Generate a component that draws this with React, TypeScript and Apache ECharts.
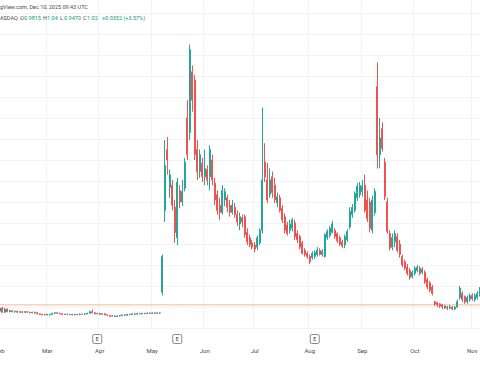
import React, { useEffect, useRef } from "react";
import * as echarts from "echarts";

// Trading days per month (2025)
const febDays = [3, 4, 5, 6, 7, 10, 11, 12, 13, 14, 18, 19, 20, 21, 24, 25, 26, 27, 28];
const marDays = [3, 4, 5, 6, 7, 10, 11, 12, 13, 14, 17, 18, 19, 20, 21, 24, 25, 26, 27, 28, 31];
const aprDays = [1, 2, 3, 4, 7, 8, 9, 10, 11, 14, 15, 16, 17, 21, 22, 23, 24, 25, 28, 29, 30];
const mayDays = [1, 2, 5, 6, 7, 8, 9, 12, 13, 14, 15, 16, 19, 20, 21, 22, 23, 27, 28, 29, 30];
const junDays = [2, 3, 4, 5, 6, 9, 10, 11, 12, 13, 16, 17, 18, 20, 23, 24, 25, 26, 27, 30];
const julDays = [1, 2, 3, 7, 8, 9, 10, 11, 14, 15, 16, 17, 18, 21, 22, 23, 24, 25, 28, 29, 30, 31];
const augDays = [1, 4, 5, 6, 7, 8, 11, 12, 13, 14, 15, 18, 19, 20, 21, 22, 25, 26, 27, 28, 29];
const sepDays = [2, 3, 4, 5, 8, 9, 10, 11, 12, 15, 16, 17, 18, 19, 22, 23, 24, 25, 26, 29, 30];
const octDays = [1, 2, 3, 6, 7, 8, 9, 10, 13, 14, 15, 16, 17, 20, 21, 22, 23, 24, 27, 28, 29, 30, 31];
const novDays = [3, 4, 5, 6];

// [open, close, low, high]
const febOHLC = [
  [0.96, 0.99, 0.95, 1.0], [0.99, 0.95, 0.945, 1.0], [0.95, 0.98, 0.945, 0.99], [0.98, 0.955, 0.95, 0.985],
  [0.955, 0.965, 0.95, 0.975], [0.965, 0.955, 0.95, 0.97], [0.955, 0.96, 0.945, 0.965], [0.96, 0.95, 0.945, 0.965],
  [0.95, 0.955, 0.945, 0.96], [0.955, 0.95, 0.94, 0.96], [0.95, 0.955, 0.945, 0.96], [0.955, 0.95, 0.945, 0.96],
  [0.95, 0.945, 0.94, 0.955], [0.945, 0.95, 0.94, 0.955], [0.95, 0.945, 0.935, 0.955], [0.945, 0.935, 0.93, 0.95],
  [0.935, 0.93, 0.925, 0.94], [0.93, 0.925, 0.92, 0.935], [0.925, 0.93, 0.92, 0.935],
];
const marOHLC = [
  [0.93, 0.925, 0.92, 0.935], [0.925, 0.93, 0.92, 0.935], [0.93, 0.94, 0.925, 0.945], [0.94, 0.945, 0.935, 0.95],
  [0.945, 0.94, 0.935, 0.95], [0.94, 0.935, 0.93, 0.945], [0.935, 0.93, 0.925, 0.94], [0.93, 0.932, 0.925, 0.935],
  [0.932, 0.928, 0.922, 0.935], [0.928, 0.93, 0.922, 0.935], [0.93, 0.925, 0.92, 0.935], [0.925, 0.93, 0.92, 0.935],
  [0.93, 0.928, 0.922, 0.935], [0.928, 0.932, 0.922, 0.94], [0.932, 0.93, 0.925, 0.935], [0.93, 0.935, 0.925, 0.94],
  [0.935, 0.94, 0.93, 0.945], [0.94, 0.955, 0.935, 0.965], [0.955, 0.945, 0.94, 0.975], [0.945, 0.935, 0.93, 0.95],
  [0.935, 0.94, 0.93, 0.945],
];
const aprOHLC = [
  [0.94, 0.93, 0.925, 0.945], [0.93, 0.935, 0.925, 0.94], [0.935, 0.925, 0.92, 0.94], [0.925, 0.92, 0.915, 0.93],
  [0.92, 0.912, 0.905, 0.925], [0.912, 0.915, 0.905, 0.92], [0.915, 0.91, 0.903, 0.92], [0.91, 0.915, 0.905, 0.92],
  [0.915, 0.92, 0.91, 0.925], [0.92, 0.925, 0.915, 0.93], [0.925, 0.922, 0.915, 0.93], [0.922, 0.928, 0.918, 0.935],
  [0.928, 0.93, 0.92, 0.935], [0.93, 0.935, 0.925, 0.94], [0.935, 0.932, 0.925, 0.94], [0.932, 0.938, 0.928, 0.945],
  [0.938, 0.935, 0.93, 0.945], [0.935, 0.94, 0.93, 0.945], [0.94, 0.938, 0.932, 0.945], [0.938, 0.942, 0.932, 0.948],
  [0.942, 0.94, 0.935, 0.948],
];
const mayOHLC = [
  [0.94, 0.943, 0.935, 0.95], [0.943, 0.94, 0.935, 0.95], [0.94, 0.944, 0.935, 0.95], [0.944, 0.942, 0.936, 0.95],
  [1.14, 1.48, 1.11, 1.5], [1.92, 2.35, 1.81, 2.59], [2.5, 2.4, 2.26, 2.62], [2.14, 2.26, 2.04, 2.31],
  [2.16, 1.97, 1.92, 2.21], [1.95, 1.71, 1.61, 2.02], [1.66, 2.19, 1.59, 2.23], [2.11, 2.0, 1.94, 2.16],
  [2.0, 2.1, 1.96, 2.21], [2.13, 2.38, 2.1, 2.42], [2.8, 2.45, 2.4, 2.97], [2.66, 3.45, 2.59, 3.5],
  [3.24, 2.97, 2.86, 3.3], [3.16, 2.45, 2.4, 3.21], [2.5, 2.29, 2.21, 2.59], [2.29, 2.45, 2.23, 2.5],
  [2.37, 2.24, 2.19, 2.42],
];
const junOHLC = [
  [2.24, 2.32, 2.16, 2.5], [2.31, 2.21, 2.16, 2.35], [2.24, 2.5, 2.11, 2.54], [2.4, 2.21, 2.16, 2.45],
  [2.18, 2.02, 1.97, 2.23], [2.07, 1.92, 1.88, 2.11], [1.97, 1.9, 1.83, 2.04], [1.9, 2.11, 1.88, 2.16],
  [2.02, 2.1, 1.96, 2.13], [2.04, 1.95, 1.9, 2.07], [1.97, 1.9, 1.86, 2.02], [1.9, 1.97, 1.88, 2.02],
  [1.95, 1.88, 1.85, 1.99], [1.88, 1.81, 1.77, 1.92], [1.79, 1.86, 1.73, 1.9], [1.85, 1.81, 1.76, 1.88],
  [1.86, 1.69, 1.66, 1.88], [1.71, 1.62, 1.59, 1.75], [1.66, 1.59, 1.57, 1.69], [1.61, 1.57, 1.55, 1.64],
];
const julOHLC = [
  [1.59, 1.55, 1.52, 1.62], [1.57, 1.66, 1.54, 1.68], [1.61, 1.73, 1.59, 1.75], [1.73, 2.21, 1.7, 2.9],
  [2.38, 2.24, 2.19, 2.56], [2.21, 2.02, 1.99, 2.37], [2.07, 2.21, 2.04, 2.32], [2.24, 2.09, 2.04, 2.29],
  [2.16, 2.02, 1.99, 2.23], [1.99, 2.05, 1.95, 2.09], [2.04, 1.92, 1.9, 2.07], [1.94, 1.83, 1.8, 1.97],
  [1.86, 1.73, 1.7, 1.89], [1.78, 1.7, 1.68, 1.81], [1.73, 1.79, 1.7, 1.83], [1.75, 1.83, 1.72, 1.85],
  [1.8, 1.67, 1.64, 1.83], [1.7, 1.64, 1.61, 1.73], [1.67, 1.57, 1.55, 1.69], [1.61, 1.51, 1.5, 1.63],
  [1.54, 1.5, 1.48, 1.56], [1.51, 1.48, 1.46, 1.53],
];
const augOHLC = [
  [1.48, 1.43, 1.41, 1.5], [1.47, 1.51, 1.45, 1.53], [1.48, 1.52, 1.46, 1.54], [1.5, 1.54, 1.48, 1.57],
  [1.54, 1.5, 1.49, 1.56], [1.5, 1.53, 1.48, 1.55], [1.48, 1.69, 1.47, 1.7], [1.66, 1.72, 1.64, 1.74],
  [1.68, 1.75, 1.66, 1.77], [1.71, 1.79, 1.7, 1.82], [1.73, 1.67, 1.65, 1.75], [1.7, 1.63, 1.61, 1.71],
  [1.66, 1.6, 1.58, 1.68], [1.62, 1.58, 1.56, 1.64], [1.59, 1.67, 1.56, 1.69], [1.64, 1.72, 1.62, 1.74],
  [1.76, 1.91, 1.74, 1.95], [1.88, 1.95, 1.85, 1.98], [1.92, 2.08, 1.9, 2.1], [2.04, 2.15, 2.01, 2.18],
  [2.07, 2.16, 2.04, 2.19],
];
const sepOHLC = [
  [2.1, 2.15, 2.05, 2.21], [2.16, 1.92, 1.9, 2.26], [2.02, 1.84, 1.81, 2.11], [2.0, 1.75, 1.71, 2.04],
  [1.73, 2.02, 1.7, 2.06], [1.9, 2.1, 1.87, 2.13], [3.1, 2.45, 2.32, 3.33], [2.45, 2.61, 2.32, 2.8],
  [2.7, 2.51, 2.48, 2.76], [2.38, 2.05, 2.02, 2.42], [2.0, 1.72, 1.7, 2.04], [1.7, 1.56, 1.54, 1.73],
  [1.57, 1.66, 1.54, 1.7], [1.62, 1.7, 1.57, 1.73], [1.67, 1.54, 1.52, 1.7], [1.6, 1.5, 1.47, 1.64],
  [1.48, 1.4, 1.38, 1.5], [1.43, 1.37, 1.35, 1.45], [1.38, 1.32, 1.3, 1.41], [1.35, 1.28, 1.26, 1.37],
  [1.29, 1.33, 1.27, 1.35],
];
const octOHLC = [
  [1.32, 1.37, 1.3, 1.39], [1.35, 1.38, 1.33, 1.4], [1.37, 1.32, 1.3, 1.39], [1.33, 1.36, 1.31, 1.38],
  [1.33, 1.24, 1.22, 1.35], [1.26, 1.19, 1.17, 1.28], [1.23, 1.16, 1.14, 1.25], [1.19, 1.13, 1.11, 1.21],
  [1.05, 1.03, 1.01, 1.06], [1.04, 1.02, 1.0, 1.05], [1.03, 1.01, 0.99, 1.04], [1.02, 1.0, 0.98, 1.03],
  [0.99, 1.01, 0.98, 1.02], [1.0, 0.99, 0.97, 1.01], [0.99, 1.0, 0.98, 1.02], [1.0, 0.98, 0.97, 1.01],
  [0.98, 1.0, 0.97, 1.01], [1.0, 1.05, 0.99, 1.07], [1.09, 1.18, 1.07, 1.2], [1.13, 1.07, 1.05, 1.15],
  [1.1, 1.05, 1.03, 1.11], [1.05, 1.09, 1.03, 1.11], [1.07, 1.11, 1.05, 1.13],
];
const novOHLC = [
  [1.11, 1.08, 1.06, 1.13], [1.07, 1.11, 1.05, 1.13], [1.09, 1.13, 1.07, 1.15], [1.12, 1.17, 1.1, 1.19],
];

const lastClose = 1.02;
const earningsDates = ["2025-03-31", "2025-05-15", "2025-08-05"];
const monthNames = ["Jan", "Feb", "Mar", "Apr", "May", "Jun", "Jul", "Aug", "Sep", "Oct", "Nov", "Dec"];

const headerLine1 = "gView.com, Dec 10, 2025 09:43 UTC";
const headerTicker = "ASDAQ";
const headerFields = [
  { k: "O", v: "0.9815" },
  { k: "H", v: "1.04" },
  { k: "L", v: "0.9470" },
  { k: "C", v: "1.02" },
];
const headerChange = "+0.0352 (+3.57%)";

const monthTable: [string, number[], number[][]][] = [
  ["02", febDays, febOHLC],
  ["03", marDays, marOHLC],
  ["04", aprDays, aprOHLC],
  ["05", mayDays, mayOHLC],
  ["06", junDays, junOHLC],
  ["07", julDays, julOHLC],
  ["08", augDays, augOHLC],
  ["09", sepDays, sepOHLC],
  ["10", octDays, octOHLC],
  ["11", novDays, novOHLC],
];

const dates: string[] = [];
const candles: number[][] = [];
const monthStart = new Set<number>();
monthTable.forEach(([mm, days, ohlc]) => {
  monthStart.add(dates.length);
  days.forEach((d, i) => {
    dates.push(`2025-${mm}-${String(d).padStart(2, "0")}`);
    candles.push(ohlc[i]);
  });
});

const UP = "#26a69a";
const DOWN = "#ef5350";
const GRID = "#f2f3f6";
const PRICE_LINE = "#f6b98e";
const FONT = "Roboto, 'Liberation Sans', sans-serif";

export default function App() {
  const ref = useRef<HTMLDivElement>(null);
  useEffect(() => {
    if (!ref.current) return;
    const chart = echarts.init(ref.current, undefined, { renderer: "svg" });
    chart.setOption({
      animation: false,
      backgroundColor: "#ffffff",
      grid: {
        left: -1.5,
        right: -1,
        top: -8,
        bottom: 56,
        containLabel: false,
        outerBoundsMode: "none",
      },
      xAxis: {
        type: "category",
        data: dates,
        boundaryGap: true,
        axisLine: { show: false },
        axisTick: { show: false },
        axisLabel: {
          interval: (i: number) => monthStart.has(i),
          formatter: (v: string) => monthNames[parseInt(v.slice(5, 7), 10) - 1],
          fontSize: 6,
          color: "#4a4a4a",
          margin: 19,
          fontFamily: FONT,
          hideOverlap: false,
        },
        splitLine: {
          show: true,
          interval: (i: number) => monthStart.has(i),
          lineStyle: { color: GRID, width: 1 },
        },
      },
      yAxis: {
        type: "value",
        min: 0.8,
        max: 4.0,
        interval: 0.2,
        axisLine: { show: false },
        axisTick: { show: false },
        axisLabel: { show: false },
        splitLine: { show: true, lineStyle: { color: GRID, width: 1 } },
      },
      series: [
        {
          type: "line",
          data: [
            [dates[0], lastClose],
            [dates[dates.length - 1], lastClose],
          ],
          symbol: "none",
          silent: true,
          z: 1,
          lineStyle: { color: PRICE_LINE, width: 1 },
          itemStyle: { color: PRICE_LINE },
        },
        {
          type: "candlestick",
          data: candles,
          barWidth: 1.4,
          z: 3,
          itemStyle: {
            color: UP,
            color0: DOWN,
            borderColor: UP,
            borderColor0: DOWN,
            borderWidth: 1,
          },
        },
      ],
    });

    const headerEls: any[] = [
      {
        type: "text",
        x: 0,
        y: 6.5,
        style: { text: headerLine1, fontSize: 5.5, fill: "#4a4a4a", fontFamily: FONT, verticalAlign: "middle" },
      },
      {
        type: "text",
        x: 0,
        y: 18,
        style: { text: headerTicker, fontSize: 5.5, fill: "#4a4a4a", fontFamily: FONT, verticalAlign: "middle" },
      },
    ];
    const keyX = [20, 43, 60, 83];
    headerFields.forEach((f, i) => {
      headerEls.push({
        type: "text",
        x: keyX[i],
        y: 18,
        style: { text: f.k, fontSize: 5.5, fill: "#4a4a4a", fontFamily: FONT, verticalAlign: "middle" },
      });
      headerEls.push({
        type: "text",
        x: keyX[i] + 4,
        y: 18,
        style: { text: f.v, fontSize: 5.5, fill: "#089981", fontFamily: FONT, verticalAlign: "middle" },
      });
    });
    headerEls.push({
      type: "text",
      x: 102,
      y: 18,
      style: { text: headerChange, fontSize: 5.5, fill: "#089981", fontFamily: FONT, verticalAlign: "middle" },
    });

    const eEls = earningsDates.map((d) => {
      const x = chart.convertToPixel({ xAxisIndex: 0 }, d) as number;
      return {
        type: "group",
        x,
        y: 339,
        children: [
          {
            type: "rect",
            shape: { x: -4.5, y: -4.5, width: 9, height: 9, r: 1.5 },
            style: { fill: "#ffffff", stroke: "#6a6d78", lineWidth: 0.8 },
          },
          {
            type: "text",
            x: 0,
            y: 0,
            style: {
              text: "E",
              fontSize: 5,
              fill: "#333333",
              fontFamily: FONT,
              align: "center",
              verticalAlign: "middle",
            },
          },
        ],
      };
    });

    chart.setOption({ graphic: [...headerEls, ...eEls] });
    return () => chart.dispose();
  }, []);
  return (
    <div
      ref={ref}
      style={{ position: "fixed", left: 0, top: 0, width: 480, height: 384, background: "#fff" }}
    />
  );
}
